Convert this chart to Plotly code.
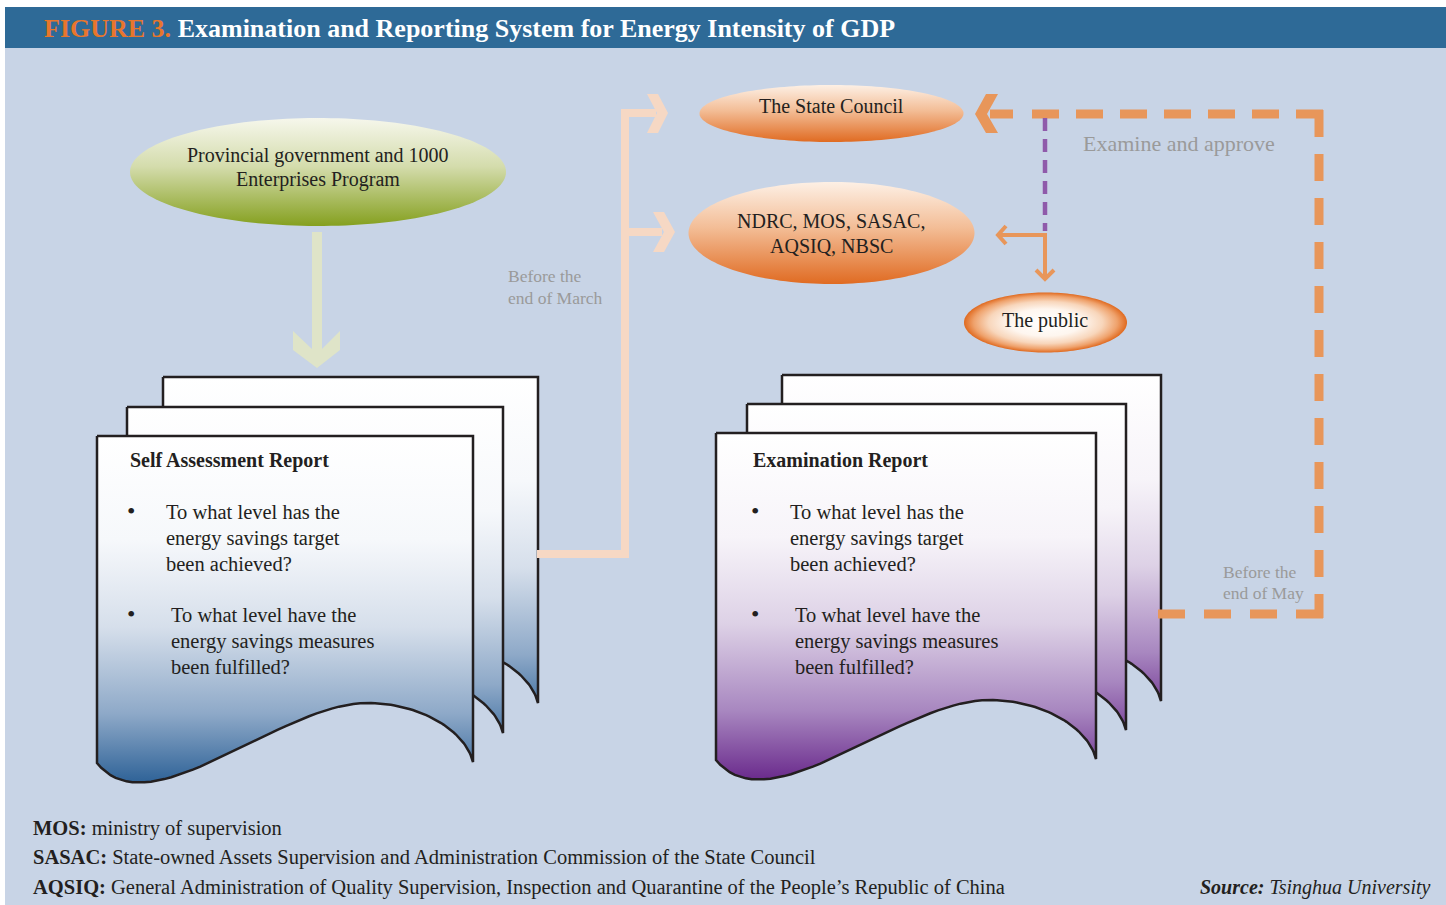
import numpy as np
import plotly.graph_objects as go

W, H = 1446, 905

# ---------------- text content ----------------
title_prefix = "FIGURE 3."
title_text = "Examination and Reporting System for Energy Intensity of GDP"
provincial_lines = ["Provincial government and 1000", "Enterprises Program"]
state_council_lines = ["The State Council"]
agencies_lines = ["NDRC, MOS, SASAC,", "AQSIQ, NBSC"]
public_lines = ["The public"]
self_report_title = "Self Assessment Report"
exam_report_title = "Examination Report"
question_1 = ["To what level has the", "energy savings target", "been achieved?"]
question_2 = ["To what level have the", "energy savings measures", "been fulfilled?"]
march_label = ["Before the", "end of March"]
may_label = ["Before the", "end of May"]
approve_label = "Examine and approve"
footnote_terms = ["MOS:", "SASAC:", "AQSIQ:"]
footnote_defs = [
    "ministry of supervision",
    "State-owned Assets Supervision and Administration Commission of the State Council",
    "General Administration of Quality Supervision, Inspection and Quarantine of the People\u2019s Republic of China",
]
source_label = ["Source:", "Tsinghua University"]

# ---------------- style ----------------
SERIF = "Liberation Serif"
DARK = "#231f20"
GRAY = "#9a9a9a"
BG = "#c8d4e6"
BAR = "#2e6a97"
ORANGE_LINE = "#e8965a"
PEACH = "#f6d8c4"
PALE_GREEN = "#dfe4c8"
PURPLE_DASH = "#8f5aaa"

fig = go.Figure()


def poly(xs, ys, fill=None, gradient=None, line_color=None, line_width=0):
    kw = dict(x=list(xs), y=list(ys), fill="toself", hoverinfo="skip", showlegend=False)
    if line_width:
        kw["mode"] = "lines"
        kw["line"] = dict(color=line_color, width=line_width)
    else:
        kw["mode"] = "none"
    if gradient is not None:
        kw["fillgradient"] = gradient
    if fill is not None:
        kw["fillcolor"] = fill
    fig.add_trace(go.Scatter(**kw))


def line(xs, ys, color, width, dash="solid"):
    fig.add_trace(go.Scatter(x=list(xs), y=list(ys), mode="lines",
                             line=dict(color=color, width=width, dash=dash),
                             hoverinfo="skip", showlegend=False))


def ellipse(cx, cy, rx, ry, n=160):
    t = np.linspace(0, 2 * np.pi, n)
    return cx + rx * np.cos(t), cy + ry * np.sin(t)


def bezier(p0, p1, p2, p3, n=40):
    t = np.linspace(0, 1, n)[:, None]
    p = ((1 - t) ** 3) * np.array(p0) + 3 * ((1 - t) ** 2) * t * np.array(p1) \
        + 3 * (1 - t) * t ** 2 * np.array(p2) + t ** 3 * np.array(p3)
    return p[:, 0], p[:, 1]


def page(L, T, Wp, scale_ref=376.0):
    s = Wp / scale_ref
    X = lambda dx: L + dx * s
    bx, by = bezier((X(376), T + 326), (X(368), T + 294), (X(323), T + 267), (X(270), T + 267))
    ax, ay = bezier((X(270), T + 267), (X(183), T + 267), (X(53), T + 394), (X(0), T + 327))
    xs = [X(0), X(376)] + list(bx) + list(ax[1:]) + [X(0)]
    ys = [T, T] + list(by) + list(ay[1:]) + [T]
    return xs, ys


def vgrad(colorscale, start, stop):
    return dict(type="vertical", colorscale=colorscale, start=start, stop=stop)


def text(x, y, s, size=19, color=DARK, xanchor="left", family=SERIF):
    fig.add_annotation(x=x, y=y, text=s, showarrow=False, xref="x", yref="y",
                       xanchor=xanchor, yanchor="middle",
                       font=dict(family=family, size=size, color=color))


# ---------------- background ----------------
fig.add_shape(type="rect", x0=5, x1=W, y0=48, y1=H, fillcolor=BG, line_width=0, layer="below")
fig.add_shape(type="rect", x0=5, x1=W, y0=7, y1=48, fillcolor=BAR, line_width=0, layer="below")

# ---------------- green ellipse + arrow ----------------
ex, ey = ellipse(318, 172, 188, 54)
poly(ex, ey, gradient=vgrad([[0, "#f6f7ec"], [0.45, "#d4dcac"], [1, "#85a01f"]], 118, 226))
poly([312, 322, 322, 340, 340, 317, 293, 293, 312],
     [232, 232, 349, 331, 350, 368, 350, 331, 349], fill=PALE_GREEN)

# ---------------- document stacks ----------------
blue_cs = [[0, "#ffffff"], [0.3, "#f6f8fb"], [0.55, "#d6dfeb"], [0.8, "#8ea9c8"], [1, "#2e6297"]]
purple_cs = [[0, "#ffffff"], [0.3, "#f7f4f9"], [0.55, "#ddd1e6"], [0.8, "#a887c0"], [1, "#6a2a8c"]]

for (L, T, Wp) in [(163, 377, 375), (127, 407, 376), (97, 436, 376)]:
    xs, ys = page(L, T, Wp)
    poly(xs, ys, gradient=vgrad(blue_cs, T, T + 347), line_color=DARK, line_width=2.5)

for (L, T, Wp) in [(782, 375, 379), (747, 404, 379), (716, 433, 380)]:
    xs, ys = page(L, T, Wp)
    poly(xs, ys, gradient=vgrad(purple_cs, T, T + 347), line_color=DARK, line_width=2.5)

# ---------------- peach connector ----------------
line([537, 625, 625, 656], [554, 554, 113, 113], PEACH, 8)
line([625, 662], [232, 232], PEACH, 8)
poly([647, 658, 668, 658, 647, 657, 647], [94, 94, 113, 133, 133, 113, 94], fill=PEACH)
poly([653, 664, 675, 664, 653, 664, 653], [212, 212, 232, 252, 252, 232, 212], fill=PEACH)

# ---------------- orange ellipses ----------------
orange_cs = [[0, "#fdf0e5"], [0.45, "#f3bd96"], [1, "#e06b22"]]
ex, ey = ellipse(831.5, 113.5, 132, 28.5)
poly(ex, ey, gradient=vgrad(orange_cs, 85, 142))
ex, ey = ellipse(831.5, 233, 143, 51)
poly(ex, ey, gradient=vgrad(orange_cs, 182, 284))
ex, ey = ellipse(1045.5, 322.5, 81.5, 30)
poly(ex, ey, gradient=dict(type="radial",
                           colorscale=[[0, "#ffffff"], [0.45, "#fef6ef"], [0.7, "#f8d6bb"],
                                       [0.88, "#efa26c"], [1, "#e06a20"]]))

# ---------------- dashed approval loop ----------------
line([1323, 1158], [614, 614], ORANGE_LINE, 9, dash="27px,19px")
line([1319, 1319], [110, 618], ORANGE_LINE, 9, dash="27px,17px")
line([1323, 1030], [114, 114], ORANGE_LINE, 9, dash="27px,17px")
line([990, 1013], [114, 114], ORANGE_LINE, 9)
poly([975, 986, 998, 987, 998, 986, 975], [114, 94, 94, 114, 133, 133, 114], fill=ORANGE_LINE)

# purple dashed + small orange arrows
line([1045, 1045], [118, 231], PURPLE_DASH, 4.5, dash="13px,8px")
line([998, 1045, 1045], [235, 235, 278], ORANGE_LINE, 4)
line([1006, 998, 1006], [226, 235, 244], ORANGE_LINE, 4)
line([1036, 1045, 1054], [270, 279, 270], ORANGE_LINE, 4)

# ---------------- texts ----------------
fig.add_annotation(x=42, y=28, xref="x", yref="y", xanchor="left", yanchor="middle", showarrow=False,
                   text=f"<b><span style='color:#e8762d'>{title_prefix}</span> {title_text}</b>",
                   font=dict(family=SERIF, size=26, color="white"))

for i, s in enumerate(provincial_lines):
    text(318, 155 + 24 * i, s, size=20, xanchor="center")
text(831, 106, state_council_lines[0], size=20, xanchor="center")
for i, s in enumerate(agencies_lines):
    text(831, 221 + 25 * i, s, size=20, xanchor="center")
text(1045, 320, public_lines[0], size=20, xanchor="center")

for (tx, title, bx, q1x, q2x) in [(128, self_report_title, 131, 164, 169),
                                   (751, exam_report_title, 755, 788, 793)]:
    text(tx, 460, f"<b>{title}</b>", size=20)
    text(bx, 511, "\u2022", size=24, xanchor="center")
    text(bx, 614, "\u2022", size=24, xanchor="center")
    for i, s in enumerate(question_1):
        text(q1x, 512 + 26 * i, s, size=20.5)
    for i, s in enumerate(question_2):
        text(q2x, 615 + 26 * i, s, size=20.5)

for i, s in enumerate(march_label):
    text(506, 276 + 22 * i, s, size=17.5, color=GRAY)
for i, s in enumerate(may_label):
    text(1221, 572 + 21 * i, s, size=17.5, color=GRAY)
text(1081, 143, approve_label, size=22, color=GRAY)

for i, (term, d) in enumerate(zip(footnote_terms, footnote_defs)):
    text(31, 828 + 29.5 * i, f"<b>{term}</b> {d}", size=20.5)
text(1433, 887, f"<b><i>{source_label[0]}</i></b> <i>{source_label[1]}</i>", size=20, xanchor="right")

fig.update_xaxes(range=[0, W], visible=False, fixedrange=True)
fig.update_yaxes(range=[H, 0], visible=False, fixedrange=True)
fig.update_layout(width=W, height=H, margin=dict(l=0, r=0, t=0, b=0),
                  paper_bgcolor="white", plot_bgcolor="white", showlegend=False)

fig.write_html("out.html", config={"displayModeBar": False},
               post_script="document.body.style.margin='0';document.body.style.overflow='hidden';")
